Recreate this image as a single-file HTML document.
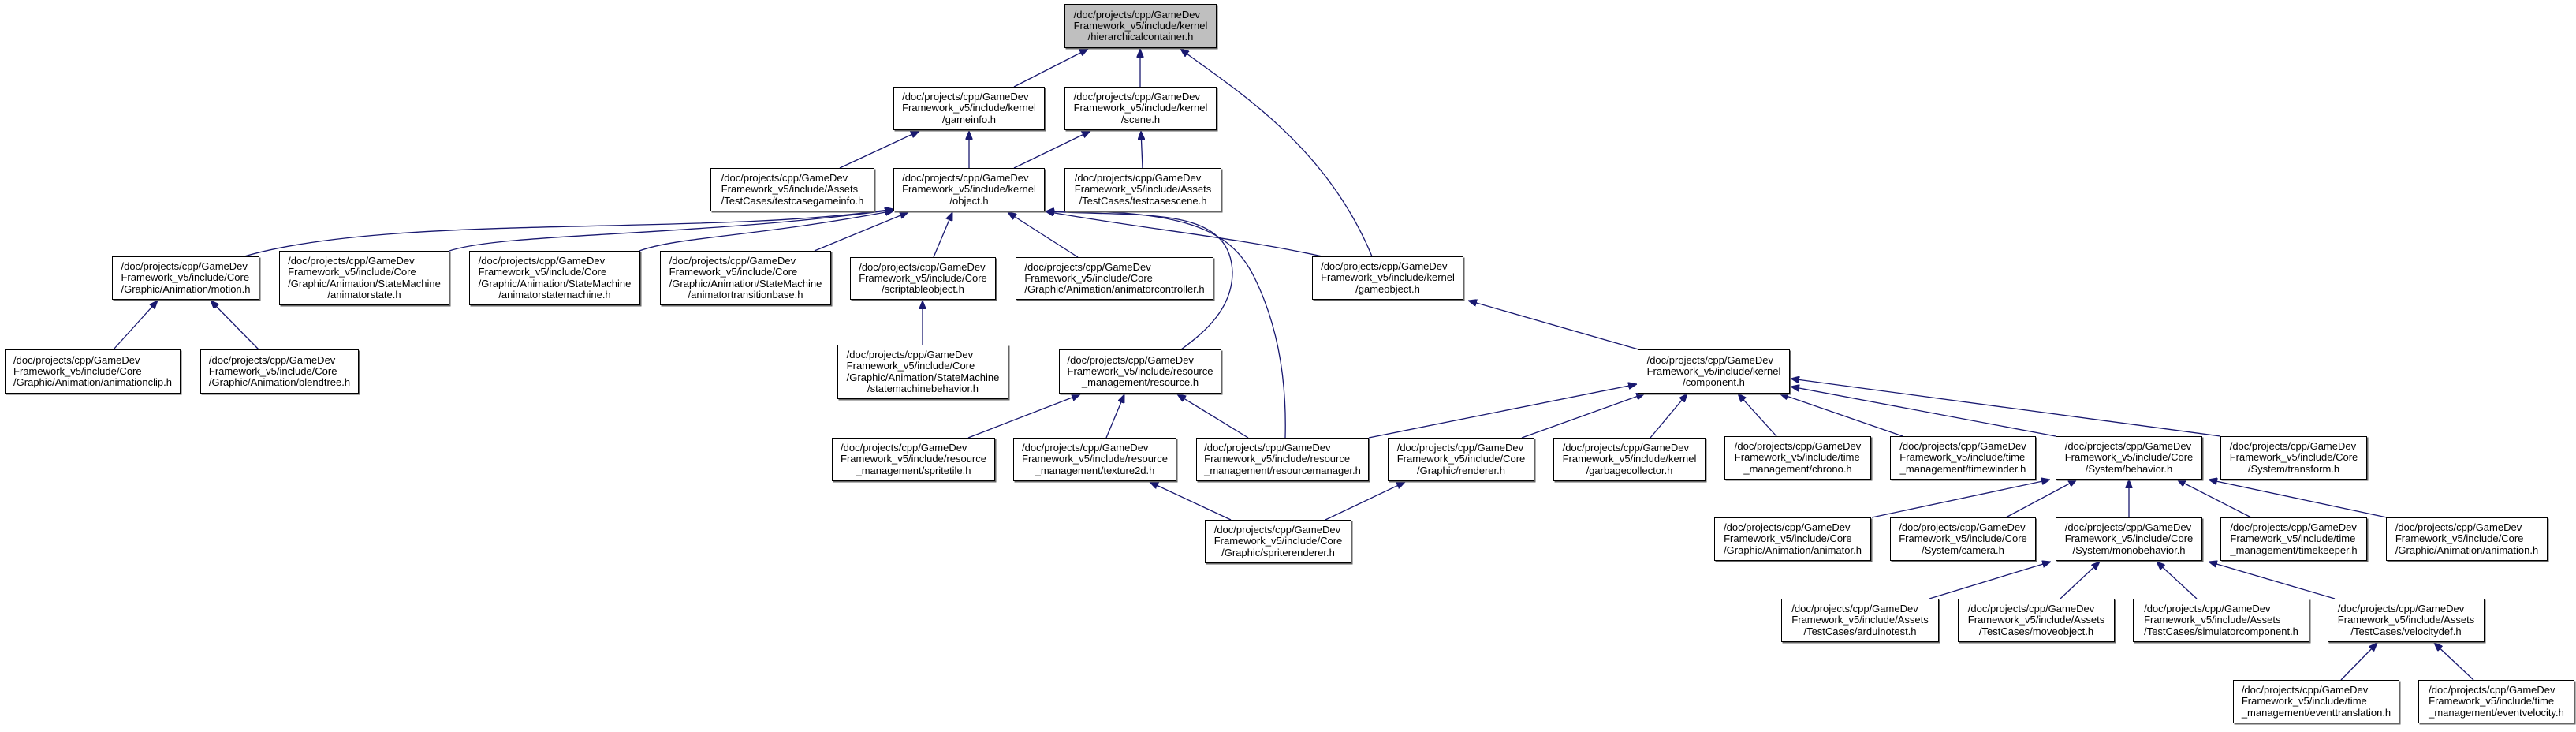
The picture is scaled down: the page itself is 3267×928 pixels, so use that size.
<!DOCTYPE html>
<html><head><meta charset="utf-8">
<style>
html,body{margin:0;padding:0;background:#fff;}
#c{position:relative;width:3267px;height:928px;overflow:hidden;background:#fff;}
svg{position:absolute;left:0;top:0;}
.b{position:absolute;box-sizing:border-box;border:1px solid #000;background:#fff;box-shadow:1.5px 1.5px 0 #666;display:flex;align-items:center;justify-content:center;font-family:"Liberation Sans",Arial,sans-serif;font-size:13px;line-height:14.3px;color:#000;}
.b.g{background:#bfbfbf;}
.t{display:inline-block;text-align:left;white-space:nowrap;}
.t div:last-child{text-align:center;}
</style></head><body><div id="c">
<svg width="3267" height="928" viewBox="0 0 3267 928">
<defs><marker id="a" markerWidth="11" markerHeight="9" refX="11" refY="4.5" orient="auto-start-reverse" markerUnits="userSpaceOnUse"><path d="M0,0 L11,4.5 L0,9 z" fill="#191970" stroke="#191970"/></marker></defs>
<g fill="none" stroke="#191970" stroke-width="1.3" marker-start="url(#a)">
<path d="M1380,62 L1286,110"/>
<path d="M1446,62 L1446,110"/>
<path d="M1497,62 C1560,110 1680,180 1740,325"/>
<path d="M1166,166 L1065,213"/>
<path d="M1229,166 L1229,213"/>
<path d="M1383,166 L1286,213"/>
<path d="M1447,166 L1449,213"/>
<path d="M1133,265 C900,300 500,270 310,325"/>
<path d="M1133,266 C880,300 640,295 570,318"/>
<path d="M1134,267 C960,300 860,300 811,318"/>
<path d="M1152,269 L1033,318"/>
<path d="M1208,269 L1184,326"/>
<path d="M1278,269 L1367,326"/>
<path d="M1326,268 C1450,290 1560,300 1677,325"/>
<path d="M1326,268 C1450,275 1560,260 1563,345 C1563,390 1530,420 1498,443"/>
<path d="M1326,268 C1500,265 1560,290 1590,350 C1620,410 1632,480 1630,555"/>
<path d="M1170,381 L1170,437"/>
<path d="M200,381 L144,443"/>
<path d="M267,381 L328,443"/>
<path d="M1862,381 L2078,443"/>
<path d="M1370,500 L1228,555"/>
<path d="M1426,500 L1403,555"/>
<path d="M1493,500 L1583,555"/>
<path d="M2076,487 L1736,555"/>
<path d="M2086,499 L1930,555"/>
<path d="M2140,499 L2093,555"/>
<path d="M2204,499 L2253,553"/>
<path d="M2257,499 L2413,553"/>
<path d="M2271,490 L2607,553"/>
<path d="M2271,480 L2816,553"/>
<path d="M1458,611 L1561,659"/>
<path d="M1782,611 L1681,659"/>
<path d="M2600,608 L2374,656"/>
<path d="M2634,608 L2544,656"/>
<path d="M2700,608 L2700,656"/>
<path d="M2761,608 L2855,656"/>
<path d="M2801,608 L3027,656"/>
<path d="M2601,712 L2447,759"/>
<path d="M2663,712 L2613,759"/>
<path d="M2735,712 L2786,759"/>
<path d="M2801,712 L2961,759"/>
<path d="M3015,815 L2969,862"/>
<path d="M3087,815 L3137,862"/>
</g></svg>

<div class="b g" style="left:1350px;top:5px;width:193px;height:56px"><div class="t"><div>/doc/projects/cpp/GameDev</div><div>Framework_v5/include/kernel</div><div>/hierarchicalcontainer.h</div></div></div>
<div class="b" style="left:1133px;top:110px;width:192px;height:55px"><div class="t"><div>/doc/projects/cpp/GameDev</div><div>Framework_v5/include/kernel</div><div>/gameinfo.h</div></div></div>
<div class="b" style="left:1350px;top:110px;width:193px;height:55px"><div class="t"><div>/doc/projects/cpp/GameDev</div><div>Framework_v5/include/kernel</div><div>/scene.h</div></div></div>
<div class="b" style="left:901px;top:213px;width:208px;height:55px"><div class="t"><div>/doc/projects/cpp/GameDev</div><div>Framework_v5/include/Assets</div><div>/TestCases/testcasegameinfo.h</div></div></div>
<div class="b" style="left:1133px;top:213px;width:192px;height:55px"><div class="t"><div>/doc/projects/cpp/GameDev</div><div>Framework_v5/include/kernel</div><div>/object.h</div></div></div>
<div class="b" style="left:1350px;top:213px;width:199px;height:55px"><div class="t"><div>/doc/projects/cpp/GameDev</div><div>Framework_v5/include/Assets</div><div>/TestCases/testcasescene.h</div></div></div>
<div class="b" style="left:142px;top:325px;width:187px;height:55px"><div class="t"><div>/doc/projects/cpp/GameDev</div><div>Framework_v5/include/Core</div><div>/Graphic/Animation/motion.h</div></div></div>
<div class="b" style="left:354px;top:318px;width:216px;height:69px"><div class="t"><div>/doc/projects/cpp/GameDev</div><div>Framework_v5/include/Core</div><div>/Graphic/Animation/StateMachine</div><div>/animatorstate.h</div></div></div>
<div class="b" style="left:595px;top:318px;width:217px;height:69px"><div class="t"><div>/doc/projects/cpp/GameDev</div><div>Framework_v5/include/Core</div><div>/Graphic/Animation/StateMachine</div><div>/animatorstatemachine.h</div></div></div>
<div class="b" style="left:837px;top:318px;width:217px;height:69px"><div class="t"><div>/doc/projects/cpp/GameDev</div><div>Framework_v5/include/Core</div><div>/Graphic/Animation/StateMachine</div><div>/animatortransitionbase.h</div></div></div>
<div class="b" style="left:1078px;top:326px;width:185px;height:54px"><div class="t"><div>/doc/projects/cpp/GameDev</div><div>Framework_v5/include/Core</div><div>/scriptableobject.h</div></div></div>
<div class="b" style="left:1288px;top:326px;width:251px;height:54px"><div class="t"><div>/doc/projects/cpp/GameDev</div><div>Framework_v5/include/Core</div><div>/Graphic/Animation/animatorcontroller.h</div></div></div>
<div class="b" style="left:1664px;top:325px;width:192px;height:55px"><div class="t"><div>/doc/projects/cpp/GameDev</div><div>Framework_v5/include/kernel</div><div>/gameobject.h</div></div></div>
<div class="b" style="left:6px;top:443px;width:223px;height:56px"><div class="t"><div>/doc/projects/cpp/GameDev</div><div>Framework_v5/include/Core</div><div>/Graphic/Animation/animationclip.h</div></div></div>
<div class="b" style="left:254px;top:443px;width:201px;height:56px"><div class="t"><div>/doc/projects/cpp/GameDev</div><div>Framework_v5/include/Core</div><div>/Graphic/Animation/blendtree.h</div></div></div>
<div class="b" style="left:1062px;top:437px;width:217px;height:69px"><div class="t"><div>/doc/projects/cpp/GameDev</div><div>Framework_v5/include/Core</div><div>/Graphic/Animation/StateMachine</div><div>/statemachinebehavior.h</div></div></div>
<div class="b" style="left:1343px;top:443px;width:206px;height:56px"><div class="t"><div>/doc/projects/cpp/GameDev</div><div>Framework_v5/include/resource</div><div>_management/resource.h</div></div></div>
<div class="b" style="left:2077px;top:443px;width:193px;height:56px"><div class="t"><div>/doc/projects/cpp/GameDev</div><div>Framework_v5/include/kernel</div><div>/component.h</div></div></div>
<div class="b" style="left:1055px;top:555px;width:207px;height:55px"><div class="t"><div>/doc/projects/cpp/GameDev</div><div>Framework_v5/include/resource</div><div>_management/spritetile.h</div></div></div>
<div class="b" style="left:1285px;top:555px;width:207px;height:55px"><div class="t"><div>/doc/projects/cpp/GameDev</div><div>Framework_v5/include/resource</div><div>_management/texture2d.h</div></div></div>
<div class="b" style="left:1517px;top:555px;width:219px;height:55px"><div class="t"><div>/doc/projects/cpp/GameDev</div><div>Framework_v5/include/resource</div><div>_management/resourcemanager.h</div></div></div>
<div class="b" style="left:1760px;top:555px;width:186px;height:55px"><div class="t"><div>/doc/projects/cpp/GameDev</div><div>Framework_v5/include/Core</div><div>/Graphic/renderer.h</div></div></div>
<div class="b" style="left:1970px;top:555px;width:193px;height:55px"><div class="t"><div>/doc/projects/cpp/GameDev</div><div>Framework_v5/include/kernel</div><div>/garbagecollector.h</div></div></div>
<div class="b" style="left:2187px;top:553px;width:186px;height:55px"><div class="t"><div>/doc/projects/cpp/GameDev</div><div>Framework_v5/include/time</div><div>_management/chrono.h</div></div></div>
<div class="b" style="left:2397px;top:553px;width:185px;height:55px"><div class="t"><div>/doc/projects/cpp/GameDev</div><div>Framework_v5/include/time</div><div>_management/timewinder.h</div></div></div>
<div class="b" style="left:2607px;top:553px;width:186px;height:55px"><div class="t"><div>/doc/projects/cpp/GameDev</div><div>Framework_v5/include/Core</div><div>/System/behavior.h</div></div></div>
<div class="b" style="left:2816px;top:553px;width:186px;height:55px"><div class="t"><div>/doc/projects/cpp/GameDev</div><div>Framework_v5/include/Core</div><div>/System/transform.h</div></div></div>
<div class="b" style="left:1528px;top:659px;width:186px;height:55px"><div class="t"><div>/doc/projects/cpp/GameDev</div><div>Framework_v5/include/Core</div><div>/Graphic/spriterenderer.h</div></div></div>
<div class="b" style="left:2174px;top:656px;width:199px;height:55px"><div class="t"><div>/doc/projects/cpp/GameDev</div><div>Framework_v5/include/Core</div><div>/Graphic/Animation/animator.h</div></div></div>
<div class="b" style="left:2397px;top:656px;width:185px;height:55px"><div class="t"><div>/doc/projects/cpp/GameDev</div><div>Framework_v5/include/Core</div><div>/System/camera.h</div></div></div>
<div class="b" style="left:2607px;top:656px;width:186px;height:55px"><div class="t"><div>/doc/projects/cpp/GameDev</div><div>Framework_v5/include/Core</div><div>/System/monobehavior.h</div></div></div>
<div class="b" style="left:2816px;top:656px;width:186px;height:55px"><div class="t"><div>/doc/projects/cpp/GameDev</div><div>Framework_v5/include/time</div><div>_management/timekeeper.h</div></div></div>
<div class="b" style="left:3026px;top:656px;width:205px;height:55px"><div class="t"><div>/doc/projects/cpp/GameDev</div><div>Framework_v5/include/Core</div><div>/Graphic/Animation/animation.h</div></div></div>
<div class="b" style="left:2259px;top:759px;width:200px;height:55px"><div class="t"><div>/doc/projects/cpp/GameDev</div><div>Framework_v5/include/Assets</div><div>/TestCases/arduinotest.h</div></div></div>
<div class="b" style="left:2483px;top:759px;width:199px;height:55px"><div class="t"><div>/doc/projects/cpp/GameDev</div><div>Framework_v5/include/Assets</div><div>/TestCases/moveobject.h</div></div></div>
<div class="b" style="left:2705px;top:759px;width:224px;height:55px"><div class="t"><div>/doc/projects/cpp/GameDev</div><div>Framework_v5/include/Assets</div><div>/TestCases/simulatorcomponent.h</div></div></div>
<div class="b" style="left:2952px;top:759px;width:199px;height:55px"><div class="t"><div>/doc/projects/cpp/GameDev</div><div>Framework_v5/include/Assets</div><div>/TestCases/velocitydef.h</div></div></div>
<div class="b" style="left:2832px;top:862px;width:211px;height:55px"><div class="t"><div>/doc/projects/cpp/GameDev</div><div>Framework_v5/include/time</div><div>_management/eventtranslation.h</div></div></div>
<div class="b" style="left:3067px;top:862px;width:198px;height:55px"><div class="t"><div>/doc/projects/cpp/GameDev</div><div>Framework_v5/include/time</div><div>_management/eventvelocity.h</div></div></div>
</div></body></html>
